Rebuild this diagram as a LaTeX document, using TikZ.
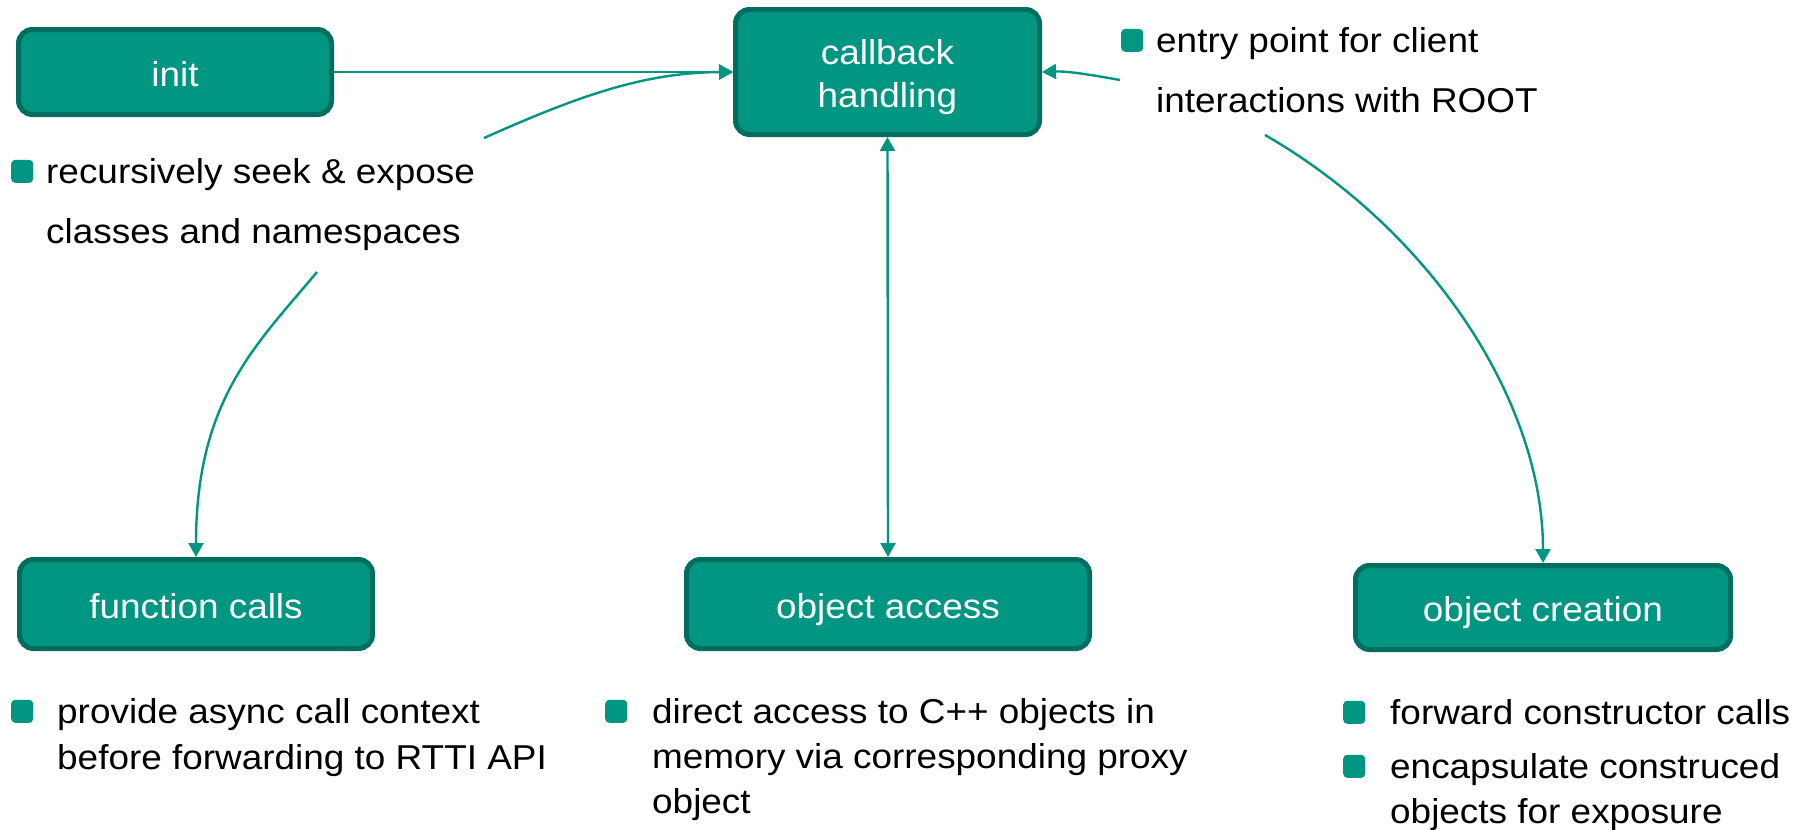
\documentclass[tikz,border=0pt]{standalone}
\usepackage{fontspec}
\setmainfont{Liberation Sans}[FakeStretch=1.07]
\usetikzlibrary{arrows.meta}
\definecolor{kitgreen}{RGB}{0,150,130}
\definecolor{kitdark}{RGB}{0,110,95}
\newcommand\diagfont{\fontsize{34.5}{40}\selectfont}
\begin{document}
\begin{tikzpicture}[x=1pt,y=-1pt,
  box/.style={rectangle, rounded corners=14pt, fill=kitgreen, draw=kitdark,
    line width=5pt, text=white, inner sep=0pt, text height=28pt,
    text depth=0pt, font=\diagfont},
  boxlabel/.style={anchor=base, inner sep=0pt, text=white, font=\diagfont},
  conn/.style={draw=kitgreen, line width=2.4pt,
    -{Triangle[length=14pt,width=15pt]}},
  both/.style={draw=kitgreen, line width=2.4pt,
    {Triangle[length=14pt,width=15pt]}-{Triangle[length=14pt,width=15pt]}},
  bul/.style={rectangle, rounded corners=4pt, fill=kitgreen, anchor=south west,
    minimum width=22pt, minimum height=23pt, inner sep=0pt},
  ln/.style={anchor=base west, inner sep=0pt, font=\diagfont}]

\useasboundingbox[fill=white] (0,0) rectangle (1808,830);

% boxes
\node[box, minimum width=313pt, minimum height=85pt] (init) at (175,72) {init};
\node[box, minimum width=304pt, minimum height=125pt] (cb) at (887.5,72) {};
\node[boxlabel] (cbl1) at (887.5,64) {callback};
\node[boxlabel] (cbl2) at (887.5,107) {handling};
\node[box, minimum width=353pt, minimum height=89pt] (fc) at (196,604) {function calls};
\node[box, minimum width=403pt, minimum height=89pt] (oa) at (888,604) {object access};
\node[box, minimum width=375pt, minimum height=84pt] (ocr) at (1543,607.5) {object creation};

% top-left note
\node[bul] (b1) at (11,183) {};
\node[ln] (t1a) at (46,183) {recursively seek \& expose};
\node[ln] (t1b) at (46,243) {classes and namespaces};

% top-right note
\node[bul] (b2) at (1121,52) {};
\node[ln] (t2a) at (1156,52) {entry point for client};
\node[ln] (t2b) at (1156,112) {interactions with ROOT};

% notes below the boxes
\node[bul] (b3) at (11,723) {};
\node[ln] (t3a) at (57,723) {provide async call context};
\node[ln] (t3b) at (57,769) {before forwarding to RTTI API};

\node[bul] (b4) at (605,723) {};
\node[ln] (t4a) at (652,723) {direct access to C++ objects in};
\node[ln] (t4b) at (652,768) {memory via corresponding proxy};
\node[ln] (t4c) at (652,813) {object};

\node[bul] (b5) at (1343,724) {};
\node[ln] (t5a) at (1390,724) {forward constructor calls};
\node[bul] (b6) at (1343,778) {};
\node[ln] (t5b) at (1390,778) {encapsulate construced};
\node[ln] (t5c) at (1390,823) {objects for exposure};

% free ends of the curved connectors
\coordinate (rs) at (484,138);
\coordinate (cs) at (317,272);
\coordinate (es) at (1120,80);
\coordinate (ts) at (1265,135);

% connectors
\draw[conn] (init.east) -- (init.east -| cb.west);
\draw[conn] (rs) .. controls (576,97) and (643,72.5) .. (init.east -| cb.west);
\draw[conn] (cs) .. controls (256,345) and (196,400) .. (fc.north);
\draw[both] (cb.south) -- (oa.north);
\draw[conn] (es) .. controls (1092,75) and (1068,71) .. (cb.east);
\draw[conn] (ts) .. controls (1430,230) and (1543,400) .. (ocr.north);
\end{tikzpicture}
\end{document}
